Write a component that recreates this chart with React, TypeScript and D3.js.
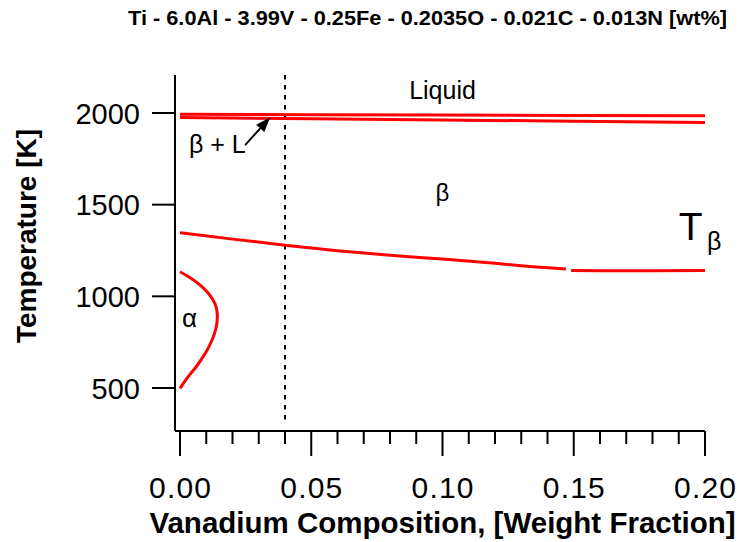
import React from "react";
import * as d3 from "d3";

// Alloy composition shown above the plot
const TITLE = "Ti - 6.0Al - 3.99V - 0.25Fe - 0.2035O - 0.021C - 0.013N [wt%]";

// Axis ticks
const X_MAJOR = [0, 0.05, 0.1, 0.15, 0.2];
const X_LABELS = ["0.00", "0.05", "0.10", "0.15", "0.20"];
const Y_MAJOR = [500, 1000, 1500, 2000];
const Y_LABELS = ["500", "1000", "1500", "2000"];

// Liquidus / solidus pair near 2000 K  [V fraction, T (K)]
const LIQUIDUS: [number, number][] = [
  [0, 1993], [0.05, 1991], [0.1, 1989], [0.15, 1987], [0.2, 1985],
];
const SOLIDUS: [number, number][] = [
  [0, 1975], [0.05, 1968], [0.1, 1962], [0.15, 1955], [0.2, 1948],
];

// Beta transus, drawn as two pieces with a small break near 0.148
const TRANSUS_A: [number, number][] = [
  [0, 1347], [0.02, 1312], [0.04, 1279], [0.06, 1249], [0.08, 1224],
  [0.1, 1203], [0.12, 1180], [0.13, 1167], [0.147, 1149],
];
const TRANSUS_B: [number, number][] = [
  [0.149, 1141], [0.16, 1140], [0.18, 1140], [0.2, 1141],
];

// Alpha solvus boundary, traced from the top end down to 500 K
const ALPHA: [number, number][] = [
  [0.0, 1134], [0.004, 1100], [0.0078, 1060], [0.0106, 1020], [0.0126, 980],
  [0.0138, 940], [0.0142, 900], [0.0141, 860], [0.0136, 820], [0.0127, 780],
  [0.0115, 740], [0.0101, 700], [0.0083, 660], [0.0064, 620], [0.0041, 580],
  [0.002, 540], [0.0, 498],
];

// Composition marker for the alloy
const ALLOY_V = 0.04;

// Arrow pointing at the narrow beta + liquid band
const ARROW_FROM: [number, number] = [0.0248, 1825];
const ARROW_TO: [number, number] = [0.0344, 1977];

const FONT = "'Liberation Sans', Arial, Helvetica, sans-serif";
const RED = "#ff0000";

export default function App() {
  const width = 742;
  const height = 542;

  const x = d3.scaleLinear().domain([0, 0.2]).range([180, 705]);
  const y = d3.scaleLinear().domain([500, 2000]).range([388, 113]);

  const axisLeft = 175;
  const axisBottom = 431;
  const axisTop = 75;

  const line = d3
    .line<[number, number]>()
    .x((d) => x(d[0]))
    .y((d) => y(d[1]));
  const smooth = d3
    .line<[number, number]>()
    .x((d) => x(d[0]))
    .y((d) => y(d[1]))
    .curve(d3.curveNatural);
  const smoothOpen = d3
    .line<[number, number]>()
    .x((d) => x(d[0]))
    .y((d) => y(d[1]))
    .curve(d3.curveMonotoneX);

  const minorTicks = d3
    .range(0, 0.2001, 0.01)
    .filter((v) => !X_MAJOR.some((m) => Math.abs(m - v) < 1e-9));

  // arrow geometry
  const ax0 = x(ARROW_FROM[0]);
  const ay0 = y(ARROW_FROM[1]);
  const ax1 = x(ARROW_TO[0]);
  const ay1 = y(ARROW_TO[1]);
  const ang = Math.atan2(ay1 - ay0, ax1 - ax0);
  const headLen = 15;
  const headHalf = 5.5;
  const bx = ax1 - headLen * Math.cos(ang);
  const by = ay1 - headLen * Math.sin(ang);
  const head = [
    [ax1, ay1],
    [bx + headHalf * Math.sin(ang), by - headHalf * Math.cos(ang)],
    [bx - headHalf * Math.sin(ang), by + headHalf * Math.cos(ang)],
  ]
    .map((p) => p.join(","))
    .join(" ");

  return (
    <svg
      width={width}
      height={height}
      style={{ position: "absolute", left: 0, top: 0, background: "#fff" }}
      fontFamily={FONT}
    >
      <rect width={width} height={height} fill="#fff" />

      {/* title */}
      <text
        x={128}
        y={25}
        fontSize={21}
        fontWeight="bold"
        textLength={599}
        lengthAdjust="spacingAndGlyphs"
      >
        {TITLE}
      </text>

      {/* alloy composition marker */}
      <line
        x1={x(ALLOY_V)}
        x2={x(ALLOY_V)}
        y1={axisTop}
        y2={423}
        stroke="#000"
        strokeWidth={2}
        strokeDasharray="4.5,5.5"
      />

      {/* phase boundaries */}
      <path d={line(LIQUIDUS) ?? ""} fill="none" stroke={RED} strokeWidth={3} />
      <path d={line(SOLIDUS) ?? ""} fill="none" stroke={RED} strokeWidth={3} />
      <path d={smoothOpen(TRANSUS_A) ?? ""} fill="none" stroke={RED} strokeWidth={3} />
      <path d={smoothOpen(TRANSUS_B) ?? ""} fill="none" stroke={RED} strokeWidth={3} />
      <path d={smooth(ALPHA) ?? ""} fill="none" stroke={RED} strokeWidth={3} />

      {/* y axis */}
      <line x1={axisLeft} x2={axisLeft} y1={axisTop} y2={axisBottom} stroke="#000" strokeWidth={2} />
      {Y_MAJOR.map((v, i) => (
        <g key={v}>
          <line x1={axisLeft - 23} x2={axisLeft} y1={y(v)} y2={y(v)} stroke="#000" strokeWidth={2} />
          <text x={140} y={y(v) + 10.5} textAnchor="end" fontSize={29}>
            {Y_LABELS[i]}
          </text>
        </g>
      ))}

      {/* x axis */}
      <line x1={axisLeft} x2={x(0.2)} y1={axisBottom} y2={axisBottom} stroke="#000" strokeWidth={2} />
      {X_MAJOR.map((v, i) => (
        <g key={v}>
          <line x1={x(v)} x2={x(v)} y1={axisBottom} y2={axisBottom + 25} stroke="#000" strokeWidth={2} />
          <text
            x={x(v)}
            y={498}
            textAnchor="middle"
            fontSize={30}
            textLength={62}
            lengthAdjust="spacing"
          >
            {X_LABELS[i]}
          </text>
        </g>
      ))}
      {minorTicks.map((v) => (
        <line key={v} x1={x(v)} x2={x(v)} y1={axisBottom} y2={axisBottom + 13} stroke="#000" strokeWidth={2} />
      ))}

      {/* axis titles */}
      <text x={442.5} y={533} textAnchor="middle" fontSize={29.5} fontWeight="bold">
        Vanadium Composition, [Weight Fraction]
      </text>
      <text
        transform={`translate(36,236) rotate(-90)`}
        textAnchor="middle"
        fontSize={28}
        fontWeight="bold"
      >
        Temperature [K]
      </text>

      {/* phase field labels */}
      <text x={x(0.1)} y={y(2076)} textAnchor="middle" fontSize={25}>
        Liquid
      </text>
      <text x={x(0.1)} y={y(1522)} textAnchor="middle" fontSize={24}>
        β
      </text>
      <text x={x(0.0034)} y={y(1782)} fontSize={25}>
        β + L
      </text>
      <text x={x(0.0008)} y={y(833)} fontSize={26}>
        α
      </text>
      <text x={x(0.19)} y={y(1307)} fontSize={39}>
        T
      </text>
      <text x={x(0.2) + 2} y={y(1252)} fontSize={25}>
        β
      </text>

      {/* arrow */}
      <line x1={ax0} y1={ay0} x2={bx} y2={by} stroke="#000" strokeWidth={2} />
      <polygon points={head} fill="#000" />
    </svg>
  );
}
